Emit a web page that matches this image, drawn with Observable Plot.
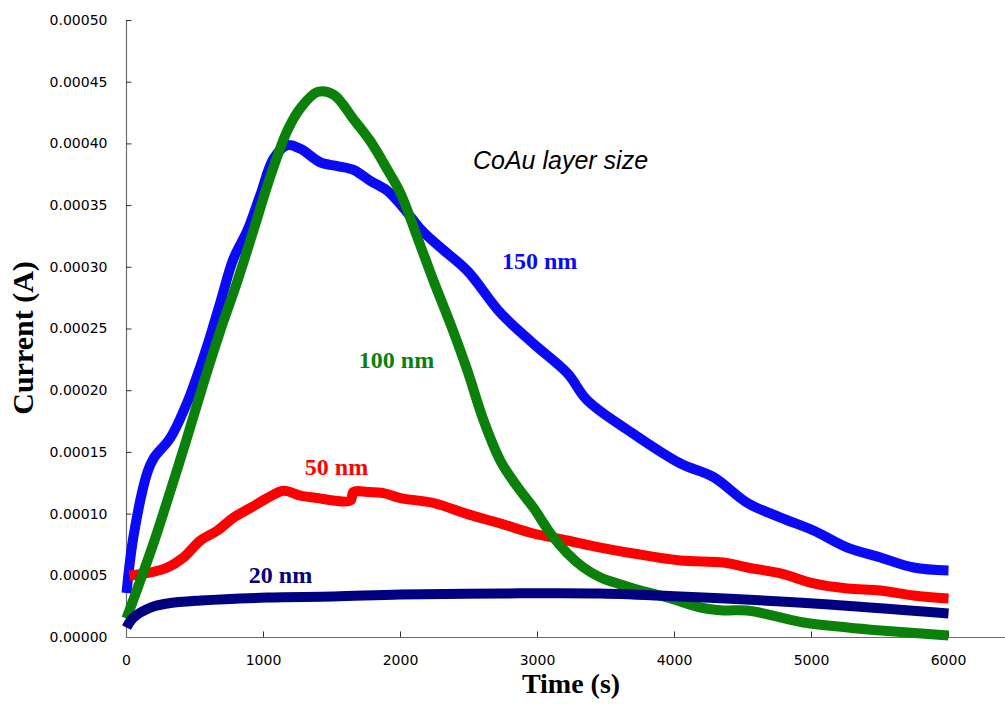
<!DOCTYPE html>
<html>
<head>
<meta charset="utf-8">
<script src="https://cdn.jsdelivr.net/npm/d3@7"></script>
<script src="https://cdn.jsdelivr.net/npm/@observablehq/plot@0.6"></script>
<style>
  html, body { margin: 0; padding: 0; background: #fff; }
  #chart svg { display: block; }
</style>
</head>
<body>
<div id="chart"></div>
<script>
// Time (s) and current (A)
const t150 = [0, 51, 153, 197, 321, 445, 540, 591, 686, 781, 883, 978, 1073, 1175, 1270, 1416, 1540, 1657, 1781, 1905, 2022, 2146, 2292, 2489, 2730, 2971, 3219, 3365, 3701, 4044, 4285, 4533, 4774, 5015, 5263, 5504, 5745, 6000];
const i150 = [0.000036, 0.000082, 0.000134, 0.000145, 0.000162, 0.000191, 0.000220, 0.000237, 0.000272, 0.000307, 0.000330, 0.000359, 0.000388, 0.000399, 0.000396, 0.000385, 0.000382, 0.000379, 0.000370, 0.000362, 0.000348, 0.000331, 0.000316, 0.000297, 0.000263, 0.000238, 0.000214, 0.000192, 0.000165, 0.000141, 0.000130, 0.000109, 0.0000972, 0.0000867, 0.0000729, 0.0000648, 0.0000567, 0.0000543];

const t100 = [0, 197, 321, 445, 562, 686, 810, 927, 1051, 1175, 1270, 1394, 1511, 1657, 1781, 1905, 2000, 2124, 2241, 2365, 2489, 2606, 2730, 2854, 2971, 3095, 3219, 3336, 3460, 3584, 3701, 3949, 4190, 4358, 4533, 4942, 5263, 5504, 6000];
const i100 = [0.0000154, 0.0000762, 0.000119, 0.000163, 0.000206, 0.000249, 0.000289, 0.000330, 0.000374, 0.000411, 0.000429, 0.000442, 0.000440, 0.000420, 0.000402, 0.000379, 0.000360, 0.000324, 0.000289, 0.000254, 0.000216, 0.000176, 0.000143, 0.000122, 0.000105, 0.0000843, 0.0000681, 0.0000567, 0.0000486, 0.0000438, 0.0000397, 0.0000324, 0.0000243, 0.0000219, 0.0000219, 0.0000122, 0.0000081, 0.0000057, 0.0000016];

const t50 = [20, 175, 299, 416, 540, 664, 781, 905, 1029, 1146, 1270, 1394, 1511, 1635, 1657, 1759, 1876, 2000, 2241, 2489, 2730, 2971, 3219, 3460, 3701, 4044, 4358, 4533, 4774, 5015, 5263, 5504, 5745, 6000];
const i50 = [0.000050, 0.0000527, 0.0000567, 0.0000648, 0.0000786, 0.0000867, 0.0000972, 0.000105, 0.000113, 0.000119, 0.000115, 0.000113, 0.000111, 0.000111, 0.000118, 0.000118, 0.000117, 0.000113, 0.000109, 0.000100, 0.0000924, 0.0000843, 0.0000786, 0.0000729, 0.0000681, 0.0000624, 0.0000608, 0.0000567, 0.0000519, 0.0000438, 0.0000397, 0.0000381, 0.0000340, 0.0000316];

const t20 = [0, 51, 175, 299, 540, 1029, 1511, 2000, 2730, 3460, 4044, 5015, 6000];
const i20 = [0.0000081, 0.0000162, 0.0000243, 0.0000276, 0.0000300, 0.0000324, 0.0000332, 0.0000348, 0.0000357, 0.0000357, 0.0000332, 0.0000276, 0.0000195];

const xTicks = [0, 1000, 2000, 3000, 4000, 5000, 6000];
const yTicks = [0, 0.00005, 0.0001, 0.00015, 0.0002, 0.00025, 0.0003, 0.00035, 0.0004, 0.00045, 0.0005];

const seriesNames = ["150 nm", "50 nm", "100 nm", "20 nm"];
const seriesColors = ["#0a0af5", "#ff0000", "#0b800b", "#000080"];
const labelT = [3015, 1533, 1971, 1124];
const labelI = [0.000305, 0.0001378, 0.0002245, 0.0000502];

const title = "CoAu layer size";
const titleT = 3168, titleI = 0.0003865;

const zip = (ts, is, s) => ts.map((t, k) => ({t, i: is[k], s}));
const rows = [
  ...zip(t150, i150, "150 nm"),
  ...zip(t50, i50, "50 nm"),
  ...zip(t100, i100, "100 nm"),
  ...zip(t20, i20, "20 nm")
];
const labels = seriesNames.map((s, k) => ({s, t: labelT[k], i: labelI[k]}));

const serif = "'Times New Roman', 'Liberation Serif', serif";
const sans = "'DejaVu Sans', Verdana, sans-serif";
const axisColor = "#6e6e6e";

const chart = Plot.plot({
  width: 1005,
  height: 704,
  marginLeft: 126,
  marginRight: 0,
  marginTop: 20,
  marginBottom: 67,
  style: {background: "#fff", overflow: "visible"},
  x: {domain: [0, 6416], axis: null},
  y: {domain: [0, 0.0005], axis: null},
  color: {domain: seriesNames, range: seriesColors},
  marks: [
    // axis lines
    Plot.ruleX([0], {y1: 0, y2: 0.0005, stroke: axisColor, strokeWidth: 1.2}),
    Plot.ruleY([0], {x1: 0, x2: 6416, stroke: axisColor, strokeWidth: 1.2}),
    // inward ticks
    Plot.ruleY(yTicks.slice(1), {x1: 0, x2: 40, stroke: "#333", strokeWidth: 1}),
    Plot.ruleX(xTicks.slice(1), {y1: 0, y2: 0.0000045, stroke: "#333", strokeWidth: 1}),
    // tick labels
    Plot.axisY(yTicks, {tickSize: 0, tickPadding: 19, tickFormat: d => d.toFixed(5), fontSize: 14, fontFamily: sans, fill: "#000", label: null}),
    Plot.axisX(xTicks, {tickSize: 0, tickPadding: 18, tickFormat: d => String(d), fontSize: 14, fontFamily: sans, fill: "#000", label: null}),
    // axis titles
    Plot.text(["Time (s)"], {frameAnchor: "bottom", dx: 5, dy: 55, textAnchor: "middle", fontSize: 28, fontWeight: "bold", fontFamily: serif, fill: "#000"}),
    Plot.text(["Current (A)"], {frameAnchor: "left", dx: -103, dy: 9, textAnchor: "middle", rotate: -90, fontSize: 30, fontWeight: "bold", fontFamily: serif, fill: "#000"}),
    // series
    Plot.line(rows, {x: "t", y: "i", z: "s", stroke: "s", strokeWidth: 10, strokeLinejoin: "round", strokeLinecap: "butt", curve: "catmull-rom"}),
    // labels
    Plot.text(labels, {x: "t", y: "i", text: "s", fill: "s", fontSize: 24, fontWeight: "bold", fontFamily: serif}),
    Plot.text([title], {x: () => titleT, y: () => titleI, fontSize: 25, fontStyle: "italic", fontFamily: "'Liberation Sans', Arial, sans-serif", fill: "#000"})
  ]
});
document.getElementById("chart").append(chart);
</script>
</body>
</html>
